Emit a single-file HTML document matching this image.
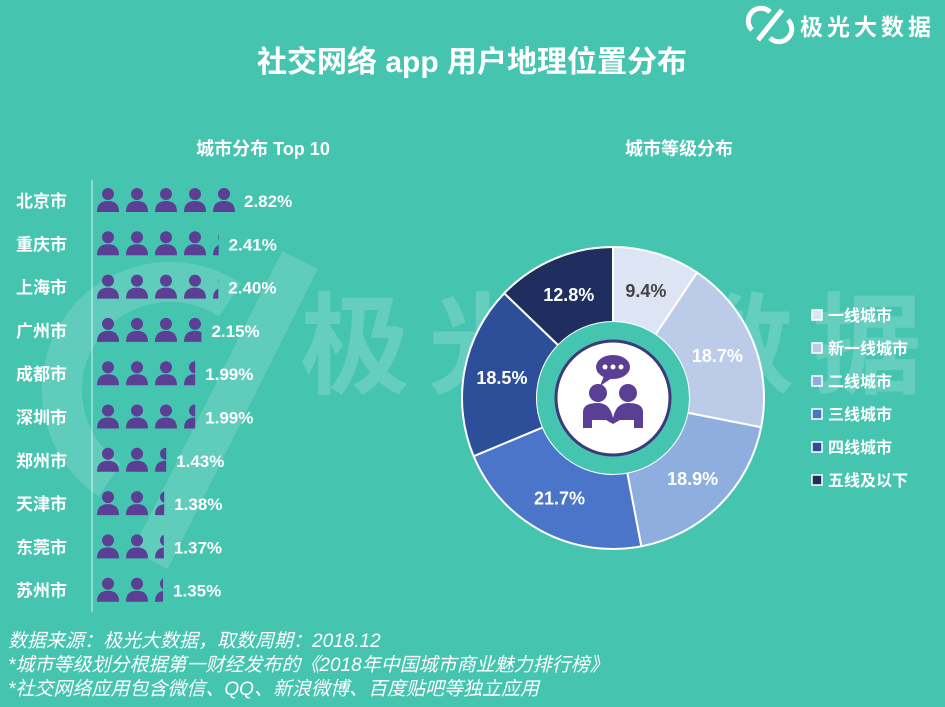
<!DOCTYPE html>
<html><head><meta charset="utf-8"><style>
body{margin:0;width:945px;height:702px;overflow:hidden;background:#45c4b0;font-family:"Liberation Sans","Noto Sans CJK SC",sans-serif}
svg text{font-family:"Liberation Sans","Noto Sans CJK SC",sans-serif}
</style></head><body>
<svg id="chart" width="945" height="702" viewBox="0 0 945 702" xmlns="http://www.w3.org/2000/svg">
<rect width="945" height="702" fill="#45c4b0"/>
<text x="300" y="385" font-size="110" font-weight="bold" fill="#ffffff" fill-opacity="0.18" letter-spacing="18">极光大数据</text>
<g fill="none" stroke="#ffffff" stroke-opacity="0.15" stroke-width="40">
<path d="M110 480 A90 90 0 0 1 230 300"/><path d="M150 560 L300 260"/>
</g>
<g>
<path d="M752 30 A12 12 0 0 1 770 12 M758 40 L782 10 M788 20 A12 12 0 0 1 770 38" fill="none" stroke="#fff" stroke-width="5"/>
<text x="800" y="35" font-size="23" font-weight="bold" fill="#fff" letter-spacing="4">极光大数据</text>
</g>
<text x="472" y="72" font-size="30" font-weight="bold" fill="#fff" text-anchor="middle">社交网络 app 用户地理位置分布</text>
<text x="263" y="155" font-size="18" font-weight="bold" fill="#fff" text-anchor="middle">城市分布 Top 10</text>
<text x="679" y="155" font-size="18" font-weight="bold" fill="#fff" text-anchor="middle">城市等级分布</text>
<line x1="92" y1="180" x2="92" y2="612" stroke="#fff" stroke-opacity="0.8" stroke-width="1"/>
<defs id="defs"></defs>
<g id="rows"></g>
<g id="donut"></g>
<circle cx="613" cy="398" r="57" fill="#fff" stroke="#3d3a7c" stroke-width="3"/>
<g fill="#5b3f95">
<ellipse cx="613" cy="367" rx="17" ry="12"/><path d="M604 376 L600 386 L612 378 Z"/>
<circle cx="605" cy="367" r="2.5" fill="#fff"/><circle cx="613" cy="367" r="2.5" fill="#fff"/><circle cx="621" cy="367" r="2.5" fill="#fff"/>
<circle cx="598" cy="393" r="9"/><circle cx="628" cy="393" r="9"/>
<path d="M583 428 L583 412 Q583 403 598 403 Q610 403 613 418 Q616 403 628 403 Q643 403 643 412 L643 428 L634 428 L634 420 L620 420 L613 424 L606 420 L592 420 L592 428 Z"/>
</g>
<g id="legend"></g>
<g fill="#fff" font-size="19" font-style="italic">
<text x="8" y="647">数据来源：极光大数据，取数周期：2018.12</text>
<text x="8" y="671">*城市等级划分根据第一财经发布的《2018年中国城市商业魅力排行榜》</text>
<text x="8" y="695">*社交网络应用包含微信、QQ、新浪微博、百度贴吧等独立应用</text>
</g>
</svg>
<script>
const cities=["北京市","重庆市","上海市","广州市","成都市","深圳市","郑州市","天津市","东莞市","苏州市"];
const cityValues=[2.82,2.41,2.40,2.15,1.99,1.99,1.43,1.38,1.37,1.35];
const tiers=["一线城市","新一线城市","二线城市","三线城市","四线城市","五线及以下"];
const tierValues=[9.4,18.7,18.9,21.7,18.5,12.8];
const tierColors=["#dde4f3","#bccbe8","#8faee0","#4a75c8","#2d4f9a","#1e2f5f"];
const NS="http://www.w3.org/2000/svg";
function mk(t,a,p){const e=document.createElementNS(NS,t);for(const k in a)e.setAttribute(k,a[k]);p.appendChild(e);return e;}
const rows=document.getElementById('rows');
const defs=document.getElementById('defs');
const perIcon=0.56,pitch=29,iconW=22,x0=97;
function rowY(i){return 200+43.3*i;}
cities.forEach((c,i)=>{
  const y=rowY(i);
  const g=mk('g',{},rows);
  
  
  const lb=mk('text',{x:16,y:y+7,'font-size':17,'font-weight':'bold',fill:'#fff'},g);lb.textContent=c;
  const n=Math.min(cityValues[i]/perIcon,5);
  const full=Math.floor(n),frac=n-full;
  for(let k=0;k<Math.ceil(n);k++){
    const w=k<full?iconW+2:frac*iconW;
    const cid='clip'+i+'_'+k;
    const cp=mk('clipPath',{id:cid},defs);
    const ix=x0+k*pitch;
    mk('rect',{x:ix-1,y:y-14,width:w,height:30},cp);
    const pg=mk('g',{fill:'#5b3f95','clip-path':'url(#'+cid+')'},g);
    
    
    mk('circle',{cx:ix+11,cy:y-6,r:6},pg);
    mk('path',{d:`M${ix} ${y+12} Q${ix} ${y+1} ${ix+11} ${y+1} Q${ix+22} ${y+1} ${ix+22} ${y+12} Z`},pg);
  }
  const endX=x0+(n>=5?4*pitch+iconW:full*pitch+frac*iconW);
  const v=mk('text',{x:endX+9,y:y+7,'font-size':17,'font-weight':'bold',fill:'#fff'},g);
  v.textContent=cityValues[i].toFixed(2)+'%';
  
  
});
const donut=document.getElementById('donut');
const cx=613,cy=398,R=151,r=76;
const total=tierValues.reduce((a,b)=>a+b,0);
let a0=0;
function pt(rad,a){return [cx+rad*Math.sin(a),cy-rad*Math.cos(a)];}
tierValues.forEach((v,i)=>{
  const a1=a0+v/total*2*Math.PI;
  const [x1,y1]=pt(R,a0),[x2,y2]=pt(R,a1),[x3,y3]=pt(r,a1),[x4,y4]=pt(r,a0);
  const lg=(a1-a0)>Math.PI?1:0;
  const p=mk('path',{d:`M${x1} ${y1} A${R} ${R} 0 ${lg} 1 ${x2} ${y2} L${x3} ${y3} A${r} ${r} 0 ${lg} 0 ${x4} ${y4} Z`,fill:tierColors[i],stroke:'#fff','stroke-width':2},donut);
  
  
  const [lx,ly]=pt(113,(a0+a1)/2);
  const t=mk('text',{x:lx,y:ly+7,'font-size':18,'font-weight':'bold','text-anchor':'middle',fill:i===0?'#444':'#fff'},donut);
  t.textContent=v+'%';
  
  
  a0=a1;
});
mk('circle',{cx:cx,cy:cy,r:r,fill:'#45c4b0'},donut);
const leg=document.getElementById('legend');
tiers.forEach((t,i)=>{
  const y=316+33*i;
  const g=mk('g',{},leg);
  
  
  mk('rect',{x:812,y:y-6,width:10,height:10,fill:tierColors[i],stroke:'#fff','stroke-width':1.5},g);
  const tx=mk('text',{x:828,y:y+5,'font-size':16,'font-weight':'bold',fill:'#fff'},g);tx.textContent=t;
});
</script>
</body></html>
